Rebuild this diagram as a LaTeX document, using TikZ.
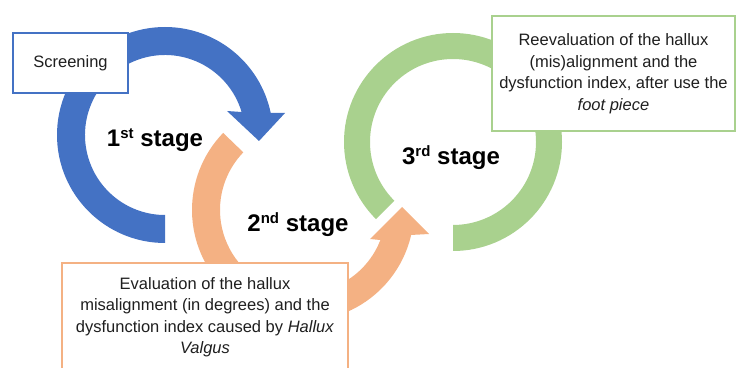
\documentclass[tikz,border=0pt]{standalone}
\usepackage{fontspec}
\setmainfont{Liberation Sans}
\definecolor{ringblue}{HTML}{4472C4}
\definecolor{ringorange}{HTML}{F4B183}
\definecolor{ringgreen}{HTML}{A9D18E}
\newcommand\supx[1]{\raisebox{0.36em}{\fontsize{15}{15}\selectfont #1}}
\begin{document}
\begin{tikzpicture}[x=1pt,y=1pt,
  stagelabel/.style={font=\fontsize{24}{28}\selectfont\bfseries, anchor=base, inner sep=0pt},
  textbox/.style={draw, fill=white, align=center, inner sep=0pt, text=black!88,
    font=\fontsize{16.5}{21.5}\selectfont},
]
\useasboundingbox (0,0) rectangle (736,367);
\clip (0,0) rectangle (736,367);

% ring centres
\coordinate (bc) at (165,232);
\coordinate (oc) at (303,157);
\coordinate (gc) at (453,225);

% arrow head points
\coordinate (bwo) at (285,254);
\coordinate (btip) at (259,226);
\coordinate (bwi) at (227,256);
\coordinate (owo) at (429,133);
\coordinate (otip) at (402,160);
\coordinate (owi) at (370,128);

% blue ring with arrow head
\fill[ringblue] ([shift={(270:108pt)}]bc) arc[start angle=270, end angle=11.8, radius=108pt]
  -- (bwo) -- (btip) -- (bwi)
  -- ([shift={(16.7:80pt)}]bc) arc[start angle=16.7, end angle=270, radius=80pt] -- cycle;

% orange ring with arrow head
\fill[ringorange] ([shift={(136:111pt)}]oc) arc[start angle=136, end angle=347, radius=111pt]
  -- (owo) -- (otip) -- (owi)
  -- ([shift={(338.8:83pt)}]oc) arc[start angle=338.8, end angle=136, radius=83pt] -- cycle;

% green ring
\fill[ringgreen] ([shift={(270:109pt)}]gc) arc[start angle=270, end angle=585, radius=109pt]
  -- ([shift={(585:83pt)}]gc) arc[start angle=585, end angle=270, radius=83pt] -- cycle;

% boxes
\node[textbox, draw=ringblue, line width=1.3pt, minimum width=115pt, minimum height=60pt]
  (screen) at (70.5,304) {Screening};
\node[textbox, draw=ringgreen, line width=2pt, minimum width=243pt, minimum height=115pt]
  (reeval) at (613.5,293.5) {Reevaluation of the hallux\\(mis)alignment and the\\dysfunction index, after use the\\\textit{foot piece}};
\node[textbox, draw=ringorange, line width=1.3pt, minimum width=286pt, minimum height=108pt]
  (eval) at (205,50) {Evaluation of the hallux\\misalignment (in degrees) and the\\dysfunction index caused by \textit{Hallux}\\\textit{Valgus}};

% stage labels
\node[stagelabel] (s1) at (155,220) {1\supx{st} stage};
\node[stagelabel] (s2) at (298,135) {2\supx{nd} stage};
\node[stagelabel] (s3) at (451,202) {3\supx{rd} stage};
\end{tikzpicture}
\end{document}
